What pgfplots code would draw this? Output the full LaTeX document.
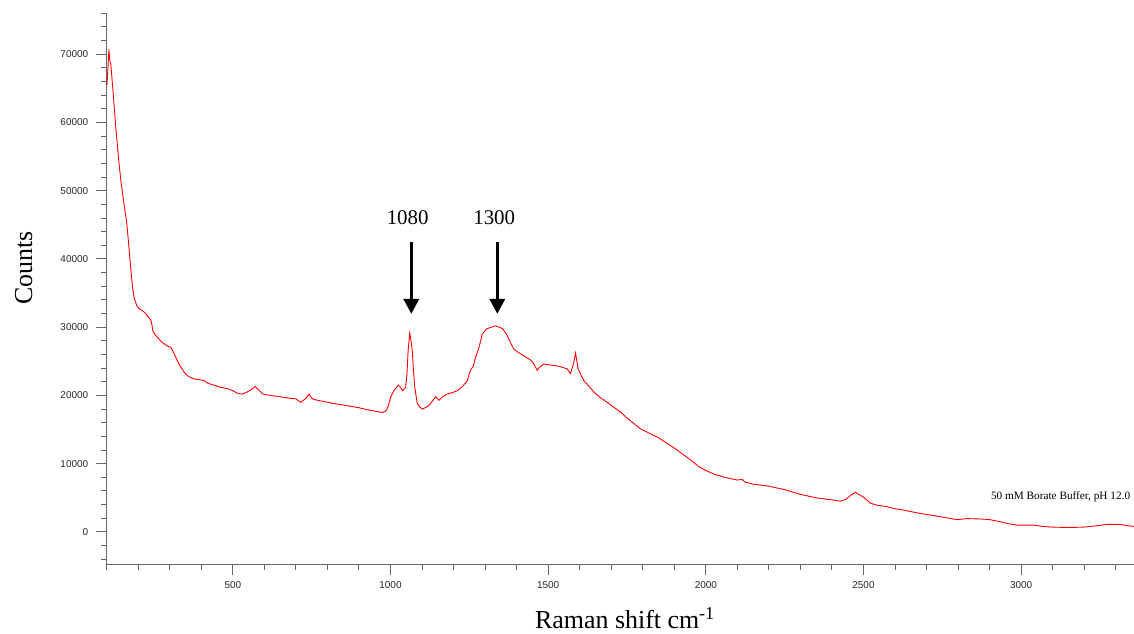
\documentclass[border=0pt]{standalone}
\usepackage{fontspec}
\setmainfont{Liberation Serif}
\newfontfamily\tickfont{Liberation Sans}
\usepackage{pgfplots}
\pgfplotsset{compat=1.18}
\usetikzlibrary{arrows.meta}

\pgfplotstableread{
x y
101 65500
104 68000
107 70700
110 69000
113 68600
121 64000
129 59200
137 55000
145 51400
155 48000
164 45100
170 42000
175 39300
179 37300
183 35500
187 34300
195 33200
203 32700
214 32400
224 32000
232 31500
240 31000
243 30500
246 29500
252 29000
261 28500
275 27800
290 27300
304 27000
312 26300
319 25600
330 24500
346 23400
356 22900
367 22600
380 22400
395 22300
408 22200
420 21800
440 21500
460 21200
483 21000
500 20700
515 20300
530 20200
545 20500
560 20900
570 21300
580 20900
595 20200
620 20000
650 19800
680 19600
700 19500
715 19000
730 19500
742 20200
750 19600
758 19400
790 19100
821 18800
850 18600
874 18400
900 18200
927 17900
950 17700
974 17500
985 17700
992 18300
1001 19800
1012 20800
1025 21500
1032 21200
1038 20700
1048 21200
1052 23000
1056 26600
1061 29100
1065 28000
1069 26600
1073 23500
1077 21200
1085 18800
1093 18300
1101 18000
1110 18200
1122 18500
1135 19300
1143 19800
1154 19300
1165 19800
1180 20200
1195 20400
1212 20700
1228 21300
1244 22200
1250 23200
1256 23900
1262 24200
1270 25600
1281 27100
1291 29000
1300 29500
1307 29800
1320 30000
1333 30200
1345 30000
1355 29800
1363 29300
1370 28800
1380 27800
1391 26800
1402 26400
1413 26100
1430 25600
1444 25200
1455 24600
1465 23700
1472 24100
1486 24600
1500 24500
1518 24400
1540 24200
1560 23900
1571 23200
1576 24000
1580 24600
1587 26200
1591 25000
1595 23900
1605 22900
1613 22200
1630 21300
1645 20500
1665 19700
1687 19000
1710 18200
1729 17600
1750 16700
1771 15900
1793 15100
1850 13800
1900 12300
1950 10600
1980 9500
2000 9000
2030 8400
2060 8000
2100 7600
2115 7700
2125 7300
2150 7000
2200 6700
2250 6200
2300 5500
2350 5000
2400 4700
2426 4500
2445 4800
2460 5400
2474 5800
2485 5500
2500 5100
2522 4200
2545 3900
2574 3700
2600 3400
2627 3200
2680 2700
2722 2400
2760 2100
2796 1800
2828 1950
2870 1900
2901 1800
2933 1500
2960 1200
2986 1000
3039 1000
3070 800
3102 700
3150 650
3197 700
3240 900
3271 1100
3314 1100
3340 900
3358 800
}\spectrum

\begin{document}
\begin{tikzpicture}
\useasboundingbox (-106.7bp,-70bp) rectangle (1027.3bp,564bp);
\begin{axis}[
  at={(0,0)}, anchor=south west,
  width=1027.3bp, height=550.7bp, scale only axis,
  xmin=100, xmax=3358, ymin=-4700, ymax=76000,
  axis lines*=left,
  axis line style={-, draw=black!60, line width=1bp},
  tick align=outside,
  xtick={0,500,...,3500}, minor x tick num=4,
  ytick={-10000,0,...,80000}, minor y tick num=4,
  major tick length=11bp, minor tick length=6bp,
  tick style={draw=black!60, line width=1bp},
  /pgf/number format/assume math mode=true,
  /pgf/number format/1000 sep={},
  scaled y ticks=false, scaled x ticks=false,
  yticklabel style={font=\tickfont\fontsize{10}{12}\selectfont, text=black!85, xshift=-4bp},
  xticklabel style={font=\tickfont\fontsize{10}{12}\selectfont, text=black!85, yshift=-3.5bp},
  xlabel={Raman shift cm\textsuperscript{-1}},
  ylabel={Counts},
  xlabel style={font=\fontsize{26}{30}\selectfont, at={(axis description cs:0.5045,-0.118)}, anchor=base},
  ylabel style={font=\fontsize{26}{30}\selectfont, at={(axis description cs:-0.0727,0.538)}, anchor=base},
  clip=false,
]
\addplot[color=red, line width=0.9bp] table[x=x, y=y] {\spectrum};
\draw[line width=3.5bp, -{Triangle[width=15bp,length=15bp]}] (axis cs:1066,42430) -- (axis cs:1066,31950);
\draw[line width=3.5bp, -{Triangle[width=15bp,length=15bp]}] (axis cs:1338.7,42430) -- (axis cs:1338.7,31950);
\node[anchor=base, font=\fontsize{21}{24}\selectfont] at (axis cs:1054.5,45025) {1080};
\node[anchor=base, font=\fontsize{21}{24}\selectfont] at (axis cs:1329,45025) {1300};
\node[anchor=base, font=\fontsize{11.3}{13}\selectfont] at (axis cs:3125,4785) {50 mM Borate Buffer, pH 12.0};
\end{axis}
\end{tikzpicture}
\end{document}
